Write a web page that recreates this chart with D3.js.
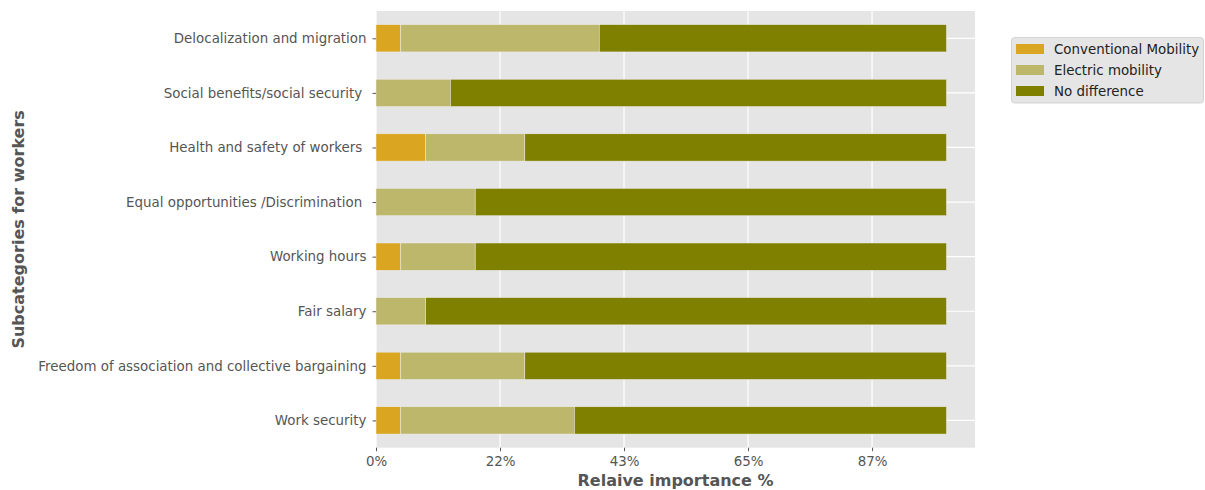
<!DOCTYPE html>
<html>
<head>
<meta charset="utf-8">
<script src="https://cdn.jsdelivr.net/npm/d3@7"></script>
<style>
  body { margin: 0; background: #fff; }
  svg text { font-family: "DejaVu Sans", sans-serif; }
</style>
</head>
<body>
<svg width="1205" height="490"></svg>
<script>
// categories, top to bottom
var categories = [
  "Delocalization and migration",
  "Social benefits/social security ",
  "Health and safety of workers ",
  "Equal opportunities /Discrimination ",
  "Working hours",
  "Fair salary",
  "Freedom of association and collective bargaining",
  "Work security"
];
// answers per category (23 respondents)
var conventional = [1, 0, 2, 0, 1, 0, 1, 1];
var electric     = [8, 3, 4, 4, 3, 2, 5, 7];
var noDifference = [14, 20, 17, 19, 19, 21, 17, 15];

var seriesNames = ["Conventional Mobility", "Electric mobility", "No difference"];
var seriesColors = ["#DAA520", "#BDB76B", "#808000"];

var tickValues = [0, 5, 10, 15, 20];
var tickLabels = ["0%", "22%", "43%", "65%", "87%"];

var svg = d3.select("svg"),
    margin = {left: 376, right: 230, top: 11, bottom: 42.3},
    width = 1205 - margin.left - margin.right,
    height = 490 - margin.top - margin.bottom;

var g = svg.append("g").attr("transform", "translate(" + margin.left + "," + margin.top + ")");

var total = 23;
var x = d3.scaleLinear().domain([0, total * 1.05]).range([0, width]);
// pandas puts bar i at y = i, limits -0.5 .. n-0.5 (first one on top)
var y = d3.scaleLinear().domain([-0.5, categories.length - 0.5]).range([0, height]);
var barH = y(0.25) - y(-0.25);

g.append("rect").attr("width", width).attr("height", height).attr("fill", "#E5E5E5");

// grid
g.selectAll("line.vgrid").data(tickValues).enter().append("line")
  .attr("class", "vgrid")
  .attr("x1", function(d) { return x(d); }).attr("x2", function(d) { return x(d); })
  .attr("y1", 0).attr("y2", height)
  .attr("stroke", "#fff").attr("stroke-width", 1.2);
g.selectAll("line.hgrid").data(categories).enter().append("line")
  .attr("class", "hgrid")
  .attr("x1", 0).attr("x2", width)
  .attr("y1", function(d, i) { return y(i); }).attr("y2", function(d, i) { return y(i); })
  .attr("stroke", "#fff").attr("stroke-width", 1.2);

// stacked bars
var rows = categories.map(function(c, i) {
  return {cat: c, i: i, vals: [conventional[i], electric[i], noDifference[i]]};
});
rows.forEach(function(r) {
  var start = 0;
  r.vals.forEach(function(v, k) {
    if (v > 0) {
      g.append("rect")
        .attr("x", x(start))
        .attr("y", y(r.i) - barH / 2)
        .attr("width", x(start + v) - x(start))
        .attr("height", barH)
        .attr("fill", seriesColors[k])
        .attr("stroke", "#EEEEEE").attr("stroke-width", 0.5);
    }
    start += v;
  });
});

// x axis
var xAxis = g.append("g").attr("transform", "translate(0," + height + ")")
  .call(d3.axisBottom(x).tickValues(tickValues)
    .tickFormat(function(d, i) { return tickLabels[i]; })
    .tickSize(3.5).tickPadding(5.5));
xAxis.select(".domain").remove();
xAxis.selectAll("line").attr("stroke", "#555");
xAxis.selectAll("text").attr("fill", "#555").style("font-size", "13.4px");

// y axis
var yAxis = g.append("g")
  .call(d3.axisLeft(y).tickValues(d3.range(categories.length))
    .tickFormat(function(d) { return categories[d]; })
    .tickSize(3.5).tickPadding(6));
yAxis.select(".domain").remove();
yAxis.selectAll("line").attr("stroke", "#555");
yAxis.selectAll("text").attr("fill", "#555").style("font-size", "13.4px")
  .style("white-space", "pre").attr("xml:space", "preserve");

// axis titles
svg.append("text")
  .attr("x", margin.left + width / 2).attr("y", 486)
  .attr("text-anchor", "middle").attr("fill", "#555")
  .style("font-size", "16px").style("font-weight", "bold")
  .text("Relaive importance %");
svg.append("text")
  .attr("transform", "translate(24," + (margin.top + height / 2) + ") rotate(-90)")
  .attr("text-anchor", "middle").attr("fill", "#555")
  .style("font-size", "16px").style("font-weight", "bold")
  .text("Subcategories for workers");

// legend
var lg = svg.append("g").attr("transform", "translate(1011.5,37.5)");
lg.append("rect").attr("width", 192).attr("height", 65.5).attr("rx", 3)
  .attr("fill", "#E5E5E5").attr("stroke", "#CCCCCC").attr("stroke-width", 0.8);
seriesNames.forEach(function(s, k) {
  lg.append("rect").attr("x", 4.5).attr("y", 6.5 + k * 21).attr("width", 28).attr("height", 10)
    .attr("fill", seriesColors[k]);
  lg.append("text").attr("x", 42.5).attr("y", 16.5 + k * 21)
    .attr("fill", "#222").style("font-size", "13.4px").text(s);
});
</script>
</body>
</html>
